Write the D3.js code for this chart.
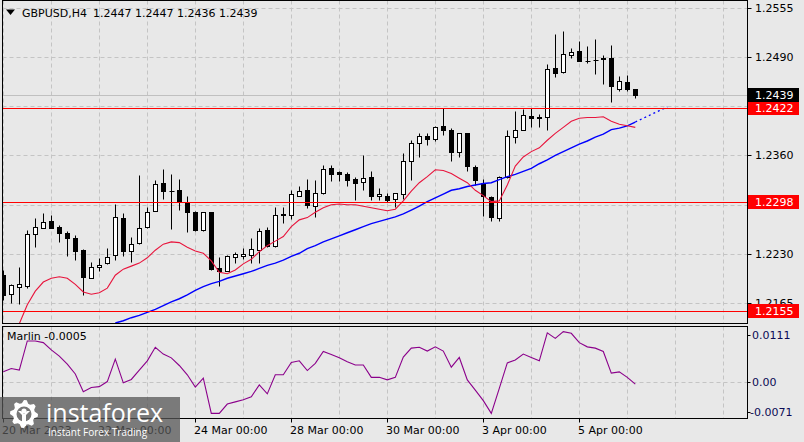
<!DOCTYPE html>
<html><head><meta charset="utf-8">
<script src="https://cdn.jsdelivr.net/npm/d3@7"></script>
<style>
html,body{margin:0;padding:0;background:#e8e8e8;}
svg{display:block;}
text{font-family:"DejaVu Sans",sans-serif;font-size:11px;}
</style></head><body>
<svg id="chart" width="804" height="442"></svg>
<script>
// ---------------- data ----------------
const symbolTitle = "GBPUSD,H4";
const lastOHLC = ["1.2447", "1.2447", "1.2436", "1.2439"];

const openP = [1.2202,1.2177,1.2187,1.2188,1.2257,1.2264,1.2273,1.2266,1.2258,1.2251,
1.2235,1.2199,1.2213,1.2218,1.2229,1.2278,1.2234,1.2244,1.2265,1.2287,
1.2323,1.2313,1.2314,1.2298,1.2286,1.2261,1.2285,1.2212,1.2208,1.2226,
1.2227,1.2229,1.2235,1.2262,1.2240,1.2283,1.2281,1.2307,1.2314,1.2293,
1.2310,1.2343,1.2338,1.2335,1.2329,1.2325,1.2331,1.2306,1.2307,1.2302,
1.2309,1.2352,1.2376,1.2385,1.2381,1.2399,1.2394,1.2364,1.2389,1.2345,
1.2324,1.2305,1.2278,1.2331,1.2384,1.2393,1.2412,1.2411,1.2410,1.2475,
1.2470,1.2492,1.2497,1.2484,1.2486,1.2488,1.2489,1.2448,1.2457,1.2447];
const highP = [1.2209,1.2191,1.2213,1.2261,1.2277,1.2284,1.2281,1.2268,1.2260,1.2255,
1.2236,1.2219,1.2225,1.2238,1.2296,1.2284,1.2252,1.2334,1.2292,1.2328,
1.2342,1.2335,1.2329,1.2306,1.2287,1.2286,1.2286,1.2226,1.2229,1.2233,
1.2238,1.2251,1.2264,1.2265,1.2292,1.2292,1.2314,1.2320,1.2329,1.2328,
1.2347,1.2347,1.2339,1.2338,1.2332,1.2361,1.2339,1.2317,1.2310,1.2311,
1.2363,1.2380,1.2389,1.2389,1.2399,1.2422,1.2396,1.2390,1.2390,1.2347,
1.2329,1.2307,1.2333,1.2393,1.2419,1.2421,1.2423,1.2415,1.2481,1.2520,
1.2524,1.2501,1.2511,1.2504,1.2513,1.2493,1.2506,1.2465,1.2466,1.2447];
const lowP = [1.2169,1.2165,1.2164,1.2185,1.2239,1.2264,1.2264,1.2246,1.2227,1.2222,
1.2176,1.2198,1.2207,1.2217,1.2222,1.2227,1.2219,1.2243,1.2264,1.2287,
1.2303,1.2263,1.2288,1.2259,1.2260,1.2260,1.2209,1.2188,1.2207,1.2218,
1.2224,1.2218,1.2218,1.2239,1.2239,1.2271,1.2276,1.2306,1.2290,1.2279,
1.2309,1.2326,1.2326,1.2319,1.2301,1.2314,1.2301,1.2301,1.2299,1.2292,
1.2303,1.2327,1.2358,1.2374,1.2379,1.2387,1.2352,1.2358,1.2339,1.2321,
1.2280,1.2274,1.2273,1.2330,1.2377,1.2393,1.2397,1.2397,1.2393,1.2464,
1.2469,1.2488,1.2484,1.2482,1.2467,1.2454,1.2431,1.2445,1.2445,1.2436];
const closeP = [1.2176,1.2189,1.2190,1.2256,1.2265,1.2272,1.2264,1.2258,1.2251,1.2234,
1.2200,1.2213,1.2216,1.2226,1.2279,1.2234,1.2243,1.2264,1.2286,1.2322,
1.2313,1.2313,1.2299,1.2285,1.2261,1.2285,1.2210,1.2208,1.2227,1.2230,
1.2230,1.2236,1.2260,1.2241,1.2281,1.2281,1.2309,1.2313,1.2294,1.2311,
1.2342,1.2336,1.2335,1.2327,1.2323,1.2330,1.2307,1.2309,1.2301,1.2310,
1.2353,1.2377,1.2386,1.2382,1.2397,1.2393,1.2364,1.2389,1.2346,1.2327,
1.2306,1.2279,1.2331,1.2385,1.2394,1.2413,1.2409,1.2409,1.2474,1.2469,
1.2494,1.2496,1.2485,1.2484,1.2486,1.2487,1.2452,1.2458,1.2447,1.2439];

// fast moving average (red)
const maRed = [null,null,1.2138,1.2163,1.2181,1.2193,1.2198,1.2200,1.2198,1.2190,
1.2180,1.2177,1.2179,1.2185,1.2202,1.2210,1.2214,1.2218,1.2225,1.2235,
1.2243,1.2246,1.2245,1.2239,1.2234,1.2231,1.2221,1.2206,1.2204,1.2209,
1.2217,1.2223,1.2233,1.2241,1.2247,1.2253,1.2266,1.2275,1.2278,1.2285,
1.2291,1.2295,1.2296,1.2295,1.2295,1.2293,1.2291,1.2289,1.2287,1.2289,
1.2300,1.2313,1.2324,1.2332,1.2341,1.2340,1.2336,1.2330,1.2324,1.2314,
1.2307,1.2299,1.2300,1.2321,1.2346,1.2358,1.2365,1.2370,1.2380,1.2389,
1.2397,1.2405,1.2409,1.2410,1.2410,1.2411,1.2405,1.2401,1.2399,1.2397];
// slow moving average (blue)
const maBlue = [null,null,null,null,null,null,null,null,null,null,
null,null,null,null,1.2139,1.2142,1.2146,1.2149,1.2153,1.2157,
1.2162,1.2167,1.2171,1.2176,1.2182,1.2187,1.2191,1.2194,1.2198,1.2201,
1.2204,1.2207,1.2211,1.2215,1.2218,1.2222,1.2227,1.2231,1.2237,1.2241,
1.2246,1.2250,1.2254,1.2258,1.2262,1.2266,1.2270,1.2273,1.2276,1.2279,
1.2283,1.2288,1.2293,1.2299,1.2304,1.2309,1.2314,1.2316,1.2319,1.2321,
1.2323,1.2324,1.2328,1.2332,1.2335,1.2339,1.2343,1.2349,1.2354,1.2360,
1.2365,1.2370,1.2375,1.2379,1.2384,1.2388,1.2394,1.2396,1.2399,1.2404];
const maBlueForwardStart = 79;
const maBlueForward = [1.2404,1.2409,1.2414,1.2419,1.2424];

// Marlin oscillator
const marlin = [0.0024,0.0032,0.0028,0.0097,0.0097,0.0093,0.0076,0.0061,0.0042,0.0019,
-0.0023,-0.0013,-0.0011,0.0001,0.0054,-0.0002,0.0006,0.0028,0.0050,0.0082,
0.0066,0.0057,0.0039,0.0017,-0.0012,0.0009,-0.0074,-0.0074,-0.0052,-0.0047,
-0.0042,-0.0035,-0.0007,-0.0028,0.0017,0.0017,0.0046,0.0050,0.0027,0.0044,
0.0072,0.0065,0.0057,0.0048,0.0040,0.0040,0.0011,0.0011,0.0005,0.0011,
0.0059,0.0080,0.0082,0.0073,0.0083,0.0073,0.0035,0.0058,0.0005,-0.0019,
-0.0044,-0.0074,-0.0015,0.0045,0.0052,0.0066,0.0058,0.0050,0.0116,0.0103,
0.0119,0.0115,0.0093,0.0083,0.0080,0.0072,0.0021,0.0024,0.0011,-0.0005];
const marlinName = "Marlin";
const marlinLast = "-0.0005";

const priceTicks = [1.2555, 1.2490, 1.2425, 1.2360, 1.2295, 1.2230, 1.2165];
// labels of 1.2425 and 1.2295 are hidden behind the level boxes in the reference
const priceTickLabels = ["1.2555", "1.2490", "", "1.2360", "", "1.2230", "1.2165"];
const levelLines = [1.2422, 1.2298, 1.2155];
const bidPrice = 1.2439;
const marlinTicks = [0.0111, 0, -0.0071];
const marlinTickLabels = ["0.0111", "0.00", "-0.0071"];
const timeTickBars = [0, 12, 24, 36, 48, 60, 72];
const timeTickLabels = ["20 Mar 2023", "22 Mar 00:00", "24 Mar 00:00", "28 Mar 00:00", "30 Mar 00:00", "3 Apr 00:00", "5 Apr 00:00"];

// ---------------- layout ----------------
const L = 2.5, R = 747.5, T = 0.5, B = 323.5, IT = 326.5, IB = 418.5;
const svg = d3.select("#chart");
svg.append("rect").attr("width", 804).attr("height", 442).attr("fill", "#e8e8e8");

const x = d3.scaleLinear().domain([0, 92]).range([3.3, 739.3]);
const yMain = d3.scaleLinear().domain([1.2555, 1.2230]).range([7.5, 254]);
const yInd = d3.scaleLinear().domain([0.0111, 0]).range([335, 382]);
const cx = i => Math.round(x(i)) + 0.5;
const py = v => Math.round(yMain(v)) + 0.5;

const defs = svg.append("defs");
defs.append("clipPath").attr("id", "clipMain").append("rect")
  .attr("x", L).attr("y", T).attr("width", R - L).attr("height", B - T);
defs.append("clipPath").attr("id", "clipInd").append("rect")
  .attr("x", L).attr("y", IT).attr("width", R - L).attr("height", IB - IT);

const gridColor = "#c4c4c4";
const gridDash = "4,3";
const gridBars = d3.range(0, 92, 6);

// ---- main panel ----
const gMain = svg.append("g").attr("clip-path", "url(#clipMain)");
gMain.selectAll("line.vg").data(gridBars).join("line").attr("class", "vg")
  .attr("x1", d => cx(d)).attr("x2", d => cx(d)).attr("y1", T).attr("y2", B)
  .attr("stroke", gridColor).attr("stroke-dasharray", gridDash);
gMain.selectAll("line.hg").data(priceTicks).join("line").attr("class", "hg")
  .attr("x1", L).attr("x2", R).attr("y1", d => py(d)).attr("y2", d => py(d))
  .attr("stroke", gridColor).attr("stroke-dasharray", gridDash);

// bid line
gMain.append("line").attr("x1", L).attr("x2", R).attr("y1", py(bidPrice)).attr("y2", py(bidPrice))
  .attr("stroke", "#c0c0c0");

// candles
const bars = d3.range(openP.length).map(i => ({i, o: openP[i], h: highP[i], l: lowP[i], c: closeP[i]}));
gMain.selectAll("line.wick").data(bars).join("line").attr("class", "wick")
  .attr("x1", d => cx(d.i)).attr("x2", d => cx(d.i))
  .attr("y1", d => py(d.h)).attr("y2", d => py(d.l))
  .attr("stroke", "#000");
gMain.selectAll("rect.body").data(bars.filter(d => d.o !== d.c)).join("rect").attr("class", "body")
  .attr("x", d => cx(d.i) - 2).attr("width", 4)
  .attr("y", d => py(Math.max(d.o, d.c)))
  .attr("height", d => Math.max(1, py(Math.min(d.o, d.c)) - py(Math.max(d.o, d.c))))
  .attr("fill", d => d.c > d.o ? "#ffffff" : "#000000").attr("stroke", "#000");
gMain.selectAll("line.doji").data(bars.filter(d => d.o === d.c)).join("line").attr("class", "doji")
  .attr("x1", d => cx(d.i) - 2).attr("x2", d => cx(d.i) + 3)
  .attr("y1", d => py(d.o)).attr("y2", d => py(d.o)).attr("stroke", "#000");

// moving averages
const maLine = d3.line().defined(d => d.v != null).x(d => x(d.i)).y(d => yMain(d.v));
gMain.append("path").datum(maBlue.map((v, i) => ({i, v})))
  .attr("d", maLine).attr("fill", "none").attr("stroke", "#0000ff").attr("stroke-width", 1.4);
gMain.append("path").datum(maBlueForward.map((v, k) => ({i: maBlueForwardStart + k, v})))
  .attr("d", maLine).attr("fill", "none").attr("stroke", "#0000ff").attr("stroke-width", 1.3)
  .attr("stroke-dasharray", "2,3");
gMain.append("path").datum(maRed.map((v, i) => ({i, v})))
  .attr("d", maLine).attr("fill", "none").attr("stroke", "#e8143c").attr("stroke-width", 1.1);

// level lines
gMain.selectAll("line.lvl").data(levelLines).join("line").attr("class", "lvl")
  .attr("x1", L).attr("x2", R).attr("y1", d => py(d)).attr("y2", d => py(d))
  .attr("stroke", "#ff0000").attr("stroke-width", 1.2);

// ---- indicator panel ----
const gInd = svg.append("g").attr("clip-path", "url(#clipInd)");
gInd.selectAll("line.vg").data(gridBars).join("line").attr("class", "vg")
  .attr("x1", d => cx(d)).attr("x2", d => cx(d)).attr("y1", IT).attr("y2", IB)
  .attr("stroke", gridColor).attr("stroke-dasharray", gridDash);
gInd.append("line").attr("x1", L).attr("x2", R)
  .attr("y1", Math.round(yInd(0)) + 0.5).attr("y2", Math.round(yInd(0)) + 0.5)
  .attr("stroke", gridColor).attr("stroke-dasharray", gridDash);
gInd.append("path").datum(marlin)
  .attr("d", d3.line().x((d, i) => x(i)).y(d => yInd(d)))
  .attr("fill", "none").attr("stroke", "#8b008b").attr("stroke-width", 1.1);

// ---- frames ----
svg.append("rect").attr("x", L).attr("y", T).attr("width", R - L).attr("height", B - T)
  .attr("fill", "none").attr("stroke", "#000");
svg.append("rect").attr("x", L).attr("y", IT).attr("width", R - L).attr("height", IB - IT)
  .attr("fill", "none").attr("stroke", "#000");

// ---- price axis ----
const gAx = svg.append("g");
gAx.selectAll("line.pt").data(priceTicks).join("line")
  .attr("x1", R).attr("x2", R + 4).attr("y1", d => py(d)).attr("y2", d => py(d)).attr("stroke", "#000");
gAx.selectAll("text.pt").data(priceTicks.filter((d, k) => priceTickLabels[k] !== "")).join("text")
  .attr("x", 755).attr("y", d => yMain(d) + 4).text(d => priceTickLabels[priceTicks.indexOf(d)]).attr("fill", "#000");

// level boxes
const boxes = svg.append("g");
levelLines.forEach(v => {
  const yc = yMain(v);
  boxes.append("rect").attr("x", 748).attr("y", Math.round(yc - 7)).attr("width", 51).attr("height", 14).attr("fill", "#ff0000");
  boxes.append("text").attr("x", 755).attr("y", yc + 4).attr("fill", "#fff").text(v.toFixed(4));
});
{
  const yc = yMain(bidPrice);
  boxes.append("rect").attr("x", 748).attr("y", Math.round(yc - 7)).attr("width", 51).attr("height", 14).attr("fill", "#000");
  boxes.append("text").attr("x", 755).attr("y", yc + 4).attr("fill", "#fff").text(bidPrice.toFixed(4));
}

// indicator axis
gAx.selectAll("line.it").data(marlinTicks).join("line")
  .attr("x1", R).attr("x2", R + 3).attr("y1", d => Math.round(yInd(d)) + 0.5).attr("y2", d => Math.round(yInd(d)) + 0.5)
  .attr("stroke", "#000");
gAx.selectAll("text.it").data(marlinTicks).join("text")
  .attr("x", (d, k) => marlinTickLabels[k].startsWith("-") ? 750 : 752)
  .attr("y", d => yInd(d) + 4).attr("fill", "#0b0b55").text((d, k) => marlinTickLabels[k]);

// time axis
gAx.selectAll("line.tt").data(timeTickBars).join("line")
  .attr("x1", d => cx(d)).attr("x2", d => cx(d)).attr("y1", IB).attr("y2", IB + 4).attr("stroke", "#000");
gAx.selectAll("text.tt").data(timeTickBars).join("text")
  .attr("x", d => cx(d) - 1.5).attr("y", 434).attr("fill", "#000").text((d, k) => timeTickLabels[k]);

// titles
svg.append("path").attr("d", "M6,9.5 L15,9.5 L10.5,15 Z").attr("fill", "#000");
svg.append("text").attr("x", 22).attr("y", 17).attr("fill", "#000").text(symbolTitle);
svg.append("text").attr("x", 93).attr("y", 17).attr("fill", "#000").text(lastOHLC.join(" "));
svg.append("text").attr("x", 7).attr("y", 340).attr("fill", "#000").text(marlinName + " " + marlinLast);

// ---- watermark ----
const wm = svg.append("g");
wm.append("rect").attr("x", 0).attr("y", 397).attr("width", 180).attr("height", 45)
  .attr("fill", "#555555").attr("opacity", 0.75);
const gear = [];
const nT = 8, cxg = 24, cyg = 414;
for (let k = 0; k < nT * 4; k++) {
  const a = (k / (nT * 4)) * Math.PI * 2 - Math.PI / 2;
  const r = (k % 4 === 0 || k % 4 === 1) ? 14 : 11;
  gear.push([cxg + r * Math.cos(a), cyg + r * Math.sin(a)]);
}
wm.append("path").attr("d", "M" + gear.map(p => p.join(",")).join("L") + "Z").attr("fill", "#ffffff");
wm.append("circle").attr("cx", cxg).attr("cy", cyg).attr("r", 7.5).attr("fill", "#777777");
wm.append("circle").attr("cx", cxg).attr("cy", cyg - 3).attr("r", 2.6).attr("fill", "#ffffff");
wm.append("path").attr("d", `M${cxg-6},${cyg-3} L${cxg-2},${cyg+1} L${cxg-2},${cyg+12} L${cxg+2},${cyg+12} L${cxg+2},${cyg+1} L${cxg+6},${cyg-3} L${cxg+3},${cyg-3} L${cxg},${cyg} L${cxg-3},${cyg-3} Z`).attr("fill", "#ffffff");
wm.append("text").attr("x", 46).attr("y", 422).attr("fill", "#ffffff")
  .style("font-family", "'Open Sans', sans-serif").style("font-size", "25px").text("instaforex");
wm.append("text").attr("x", 48).attr("y", 436).attr("fill", "#ffffff")
  .style("font-family", "'Open Sans', sans-serif").style("font-size", "10px").text("Instant Forex Trading");
</script>
</body></html>
